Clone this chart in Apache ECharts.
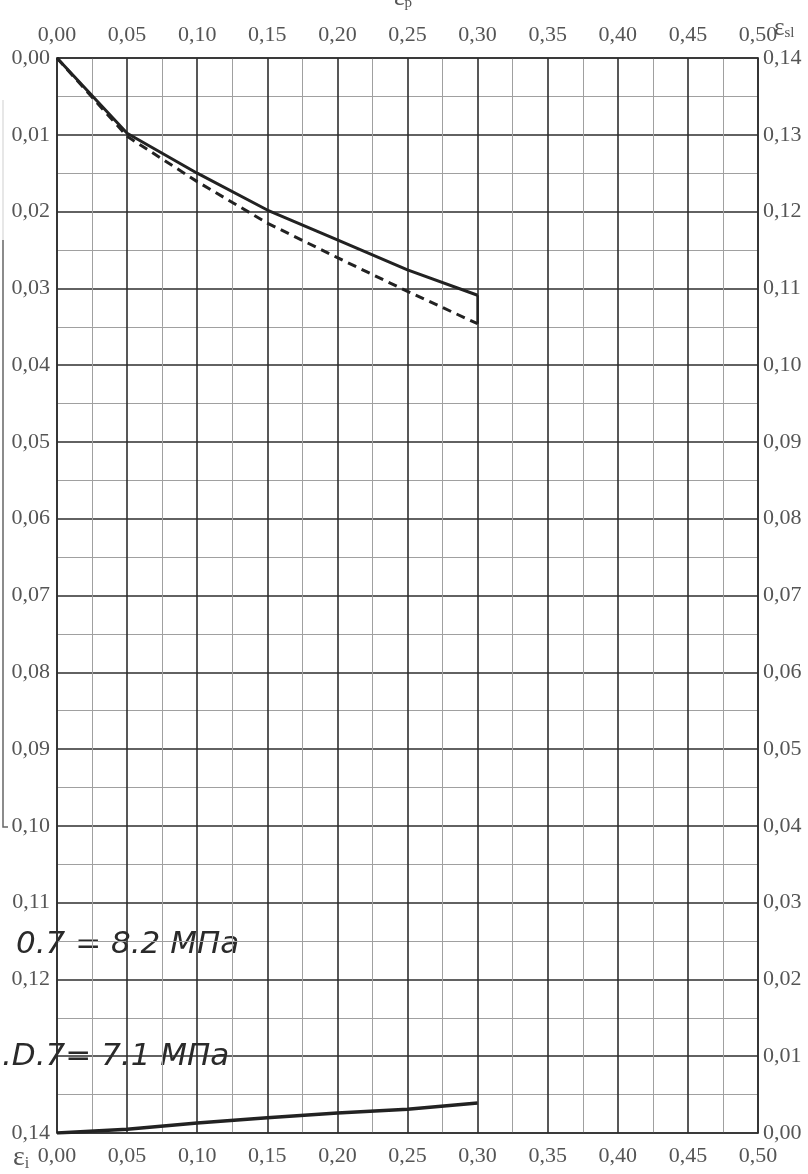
<!DOCTYPE html>
<html>
<head>
<meta charset="utf-8">
<script src="https://cdn.jsdelivr.net/npm/echarts@6/dist/echarts.min.js"></script>
<style>
  html, body { margin: 0; padding: 0; background: #fff; }
  #chart { width: 808px; height: 1174px; }
</style>
</head>
<body>
<div id="chart"></div>
<script>
// Strain values (x: ε_p, y: ε_i on the left axis, ε_sl on the right axis)
const epsP = [0, 0.05, 0.10, 0.15, 0.20, 0.25, 0.30];
const epsISolid = [0, 0.0098, 0.0150, 0.0198, 0.0237, 0.0276, 0.0309];
const epsIDashed = [0, 0.0102, 0.0161, 0.0215, 0.0260, 0.0304, 0.0346];
const epsSl = [0, 0.0005, 0.0013, 0.0020, 0.0026, 0.0031, 0.0039];
const noteUpper = '0.7 = 8.2 МПа';
const noteLower = '.D.7= 7.1 МПа';
// left-axis value whose label sits under the lower note
const hiddenLeftTick = 0.13;

const pairs = (xs, ys) => xs.map((x, i) => [x, ys[i]]);
const fmt = v => v.toFixed(2).replace('.', ',');
const last = a => a[a.length - 1];

const labelFont = { fontFamily: 'Liberation Serif', fontSize: 22, color: '#555' };
const majorLine = { lineStyle: { color: '#2e2e2e', width: 1.6 } };
const minorLine = { lineStyle: { color: '#a0a0a0', width: 1 } };
const frame = { show: true, onZero: false, lineStyle: { color: '#2e2e2e', width: 1.6 } };

const xAxisBase = {
  type: 'value', min: 0, max: 0.5, interval: 0.05,
  axisLine: frame,
  axisTick: { show: false },
  minorTick: { show: false, splitNumber: 2 },
  axisLabel: Object.assign({ formatter: fmt, margin: 12 }, labelFont)
};

const chart = echarts.init(document.getElementById('chart'));
chart.setOption({
  animation: false,
  backgroundColor: '#ffffff',
  grid: { left: 57, right: 50, top: 58, bottom: 41 },
  xAxis: [
    Object.assign({}, xAxisBase, {
      position: 'top',
      splitLine: Object.assign({ show: true }, majorLine),
      minorSplitLine: Object.assign({ show: true }, minorLine)
    }),
    Object.assign({}, xAxisBase, {
      position: 'bottom',
      splitLine: { show: false },
      minorSplitLine: { show: false }
    })
  ],
  yAxis: [
    {
      type: 'value', min: 0, max: 0.14, interval: 0.01, inverse: true, position: 'left',
      axisLine: frame,
      axisTick: { show: false },
      minorTick: { show: false, splitNumber: 2 },
      splitLine: Object.assign({ show: true }, majorLine),
      minorSplitLine: Object.assign({ show: true }, minorLine),
      axisLabel: Object.assign({
        formatter: v => (Math.abs(v - hiddenLeftTick) < 1e-9 ? '' : fmt(v)),
        margin: 7
      }, labelFont)
    },
    {
      type: 'value', min: 0, max: 0.14, interval: 0.01, position: 'right',
      axisLine: frame,
      axisTick: { show: false },
      splitLine: { show: false },
      axisLabel: Object.assign({ formatter: fmt, margin: 5 }, labelFont)
    }
  ],
  series: [
    {
      type: 'line', xAxisIndex: 0, yAxisIndex: 0, symbol: 'none',
      data: pairs(epsP, epsISolid),
      lineStyle: { color: '#222', width: 3 }
    },
    {
      type: 'line', xAxisIndex: 0, yAxisIndex: 0, symbol: 'none',
      data: pairs(epsP, epsIDashed),
      lineStyle: { color: '#222', width: 3, type: [9, 6] }
    },
    {
      // closing segment joining the ends of both curves
      type: 'line', xAxisIndex: 0, yAxisIndex: 0, symbol: 'none',
      data: [[last(epsP), last(epsISolid)], [last(epsP), last(epsIDashed)]],
      lineStyle: { color: '#222', width: 2.5 }
    },
    {
      type: 'line', xAxisIndex: 1, yAxisIndex: 1, symbol: 'none',
      data: pairs(epsP, epsSl),
      lineStyle: { color: '#222', width: 3.5 }
    }
  ],
  graphic: [
    {
      type: 'text', left: 774, top: 16,
      style: {
        text: '{e|ε}{s|sl}',
        rich: {
          e: { fontFamily: 'Liberation Serif', fontSize: 25, fill: '#555' },
          s: { fontFamily: 'Liberation Serif', fontSize: 15, fill: '#555', padding: [9, 0, 0, 0] }
        }
      }
    },
    {
      type: 'text', left: 13, top: 1144,
      style: {
        text: '{e|ε}{s|i}',
        rich: {
          e: { fontFamily: 'Liberation Serif', fontSize: 28, fill: '#555' },
          s: { fontFamily: 'Liberation Serif', fontSize: 16, fill: '#555', padding: [12, 0, 0, 0] }
        }
      }
    },
    {
      type: 'text', left: 394, top: -14,
      style: {
        text: '{e|ε}{s|p}',
        rich: {
          e: { fontFamily: 'Liberation Serif', fontSize: 25, fill: '#555' },
          s: { fontFamily: 'Liberation Serif', fontSize: 15, fill: '#555', padding: [9, 0, 0, 0] }
        }
      }
    },
    {
      type: 'text', left: 16, top: 929,
      style: {
        text: noteUpper, fill: '#2a2a2a',
        font: 'italic 31px "DejaVu Sans"'
      }
    },
    {
      type: 'text', left: 2, top: 1041,
      style: {
        text: noteLower, fill: '#2a2a2a',
        font: 'italic 31px "DejaVu Sans"'
      }
    },
    {
      type: 'polyline',
      shape: { points: [[3, 240], [3, 827], [8, 827]] },
      style: { stroke: '#666', lineWidth: 1.5, fill: null }
    },
    {
      type: 'line',
      shape: { x1: 3, y1: 100, x2: 3, y2: 240 },
      style: { stroke: '#cfcfcf', lineWidth: 1 }
    }
  ]
});
</script>
</body>
</html>
